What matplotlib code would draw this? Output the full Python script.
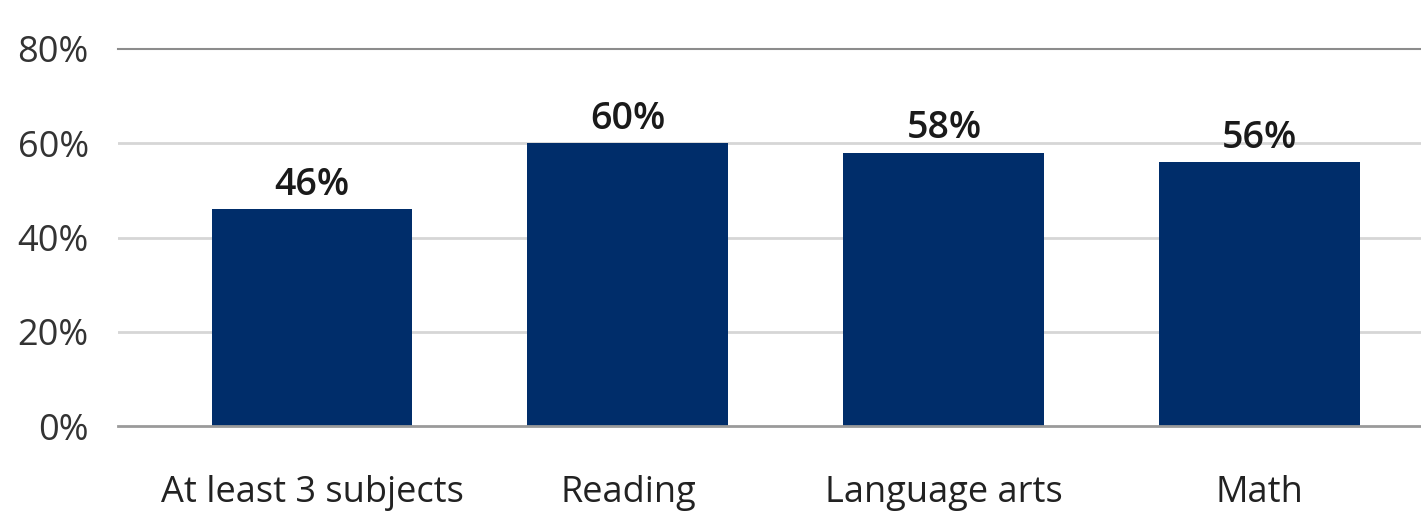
import matplotlib
matplotlib.use("Agg")
import matplotlib.pyplot as plt

categories = ["At least 3 subjects", "Reading", "Language arts", "Math"]
values = [46, 60, 58, 56]
yticks = [0, 20, 40, 60, 80]
ytick_labels = ["0%", "20%", "40%", "60%", "80%"]

plt.rcParams['font.family'] = ['Open Sans', 'DejaVu Sans']

fig = plt.figure(figsize=(14.21, 5.12), dpi=100)
ax = fig.add_axes([118/1421, 1-426/512, 1-118/1421, (426-49)/512])

x = list(range(len(categories)))
ax.bar(x, values, width=0.636, color="#002D6A", zorder=3)
for xi, v in zip(x, values):
    ax.annotate(f"{v}%", (xi, v), xytext=(0, 4), textcoords="offset points",
                ha="center", va="bottom", fontsize=27, fontweight="semibold",
                color="#1a1a1a")

for t in yticks[1:-1]:
    ax.axhline(t, color="#d6d6d6", lw=2, zorder=1)
ax.axhline(80, color="#8c8c8c", lw=1.5, zorder=1, clip_on=False)
ax.axhline(0, color="#9a9a9a", lw=2, zorder=4, clip_on=False)

ax.set_xlim(-0.614, 3.51)
ax.set_ylim(0, 80)
ax.set_yticks(yticks)
ax.set_yticklabels(ytick_labels, fontsize=26, color="#333333")
ax.set_xticks(x)
ax.set_xticklabels(categories, fontsize=26, color="#222222")
ax.tick_params(axis="y", length=0, pad=21)
ax.tick_params(axis="x", length=0, pad=35)
for s in ax.spines.values():
    s.set_visible(False)

fig.savefig("out.png", dpi=100)
